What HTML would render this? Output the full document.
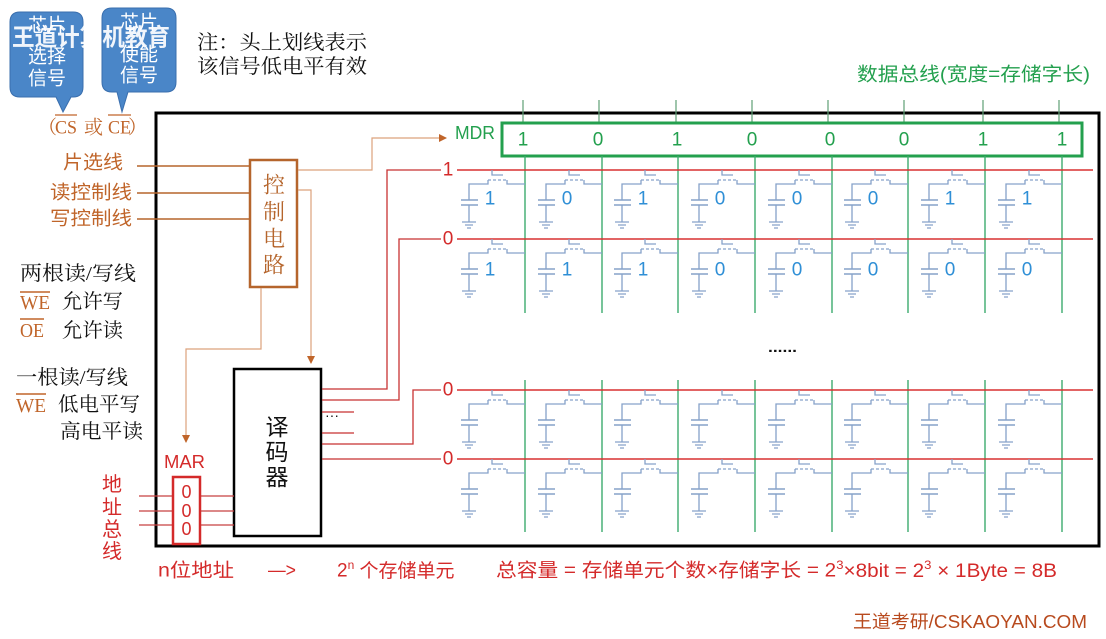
<!DOCTYPE html>
<html><head><meta charset="utf-8"><style>
html,body{margin:0;padding:0;background:#fff;}
svg{display:block;}
.s{font-family:"Liberation Sans","Noto Sans CJK SC",sans-serif;}
.r{font-family:"Liberation Serif","Noto Serif CJK SC",serif;}
</style></head><body>
<svg width="1106" height="639" viewBox="0 0 1106 639" xmlns="http://www.w3.org/2000/svg">
<defs>
<g id="cell" fill="none" stroke="#86a2c9" stroke-width="1.3">
<path d="M-33 0V5H-22"/>
<path d="M-37 10H-18" stroke-dasharray="3 2"/>
<path d="M-37 10V14H-56V30"/>
<path d="M-18 10V14H0"/>
<path d="M-64 30H-47M-64 35H-47" stroke-width="1.6"/>
<path d="M-56 35V52"/>
<path d="M-63 52H-49M-60 55H-52M-58 58H-54"/>
</g>
<marker id="ar" markerWidth="8" markerHeight="8" refX="7" refY="4" orient="auto" markerUnits="userSpaceOnUse"><path d="M0 0L8 4L0 8z" fill="#c0652a"/></marker>
</defs>

<!-- callout bubbles -->
<path d="M20 12H73Q83 12 83 22V87Q83 97 73 97H71L63 112L56 97H20Q10 97 10 87V22Q10 12 20 12Z" fill="#4a86c8" stroke="#3a6fae" stroke-width="1"/>
<path d="M112 8H166Q176 8 176 18V82Q176 92 166 92H128L122 112L117 92H112Q102 92 102 82V18Q102 8 112 8Z" fill="#4a86c8" stroke="#3a6fae" stroke-width="1"/>
<g class="s" fill="#fff" font-size="19" text-anchor="middle" dominant-baseline="central">
<text x="47" y="26">芯片</text><text x="47" y="57">选择</text><text x="47" y="79">信号</text>
<text x="139" y="23">芯片</text><text x="139" y="55">使能</text><text x="139" y="76">信号</text>
</g>
<text class="s" x="12" y="38" fill="#fff" fill-opacity="0.92" font-size="24" font-weight="bold" dominant-baseline="central" textLength="158" lengthAdjust="spacingAndGlyphs">王道计算机教育</text>

<!-- note -->
<g class="r" font-size="20" fill="#111" dominant-baseline="central">
<text x="197" y="43" textLength="170" lengthAdjust="spacingAndGlyphs">注：头上划线表示</text>
<text x="197" y="67" textLength="170" lengthAdjust="spacingAndGlyphs">该信号低电平有效</text>
</g>

<!-- (CS 或 CE) -->
<g class="r" font-size="19" fill="#c0652a" dominant-baseline="central">
<text x="38" y="128">（</text>
<text x="55" y="128" textLength="22" lengthAdjust="spacingAndGlyphs">CS</text>
<text x="84" y="128">或</text>
<text x="108" y="128" textLength="23" lengthAdjust="spacingAndGlyphs">CE</text>
<text x="128" y="128">）</text>
</g>
<path d="M55 115H77M108 115H131" stroke="#c0652a" stroke-width="1.3"/>

<!-- main rect -->
<rect x="156" y="113" width="943" height="433" fill="none" stroke="#000" stroke-width="3"/>

<!-- control labels -->
<g class="s" font-size="19" fill="#c0652a" dominant-baseline="central">
<text x="63" y="163" textLength="60" lengthAdjust="spacingAndGlyphs">片选线</text>
<text x="50" y="193" textLength="82" lengthAdjust="spacingAndGlyphs">读控制线</text>
<text x="50" y="219" textLength="82" lengthAdjust="spacingAndGlyphs">写控制线</text>
</g>
<path d="M137 166H250M137 193H250M137 219H250" stroke="#b5652c" stroke-width="1.5"/>

<!-- left notes -->
<g class="r" font-size="20" fill="#111" dominant-baseline="central">
<text x="20" y="274" textLength="116" lengthAdjust="spacingAndGlyphs">两根读/写线</text>
<text x="62" y="302" textLength="61" lengthAdjust="spacingAndGlyphs">允许写</text>
<text x="62" y="331" textLength="61" lengthAdjust="spacingAndGlyphs">允许读</text>
<text x="16" y="378" textLength="112" lengthAdjust="spacingAndGlyphs">一根读/写线</text>
<text x="58" y="405" textLength="82" lengthAdjust="spacingAndGlyphs">低电平写</text>
<text x="60" y="432" textLength="83" lengthAdjust="spacingAndGlyphs">高电平读</text>
</g>
<g class="r" font-size="20" fill="#c0652a" dominant-baseline="central">
<text x="20" y="303" textLength="30" lengthAdjust="spacingAndGlyphs">WE</text>
<text x="20" y="331" textLength="24" lengthAdjust="spacingAndGlyphs">OE</text>
<text x="16" y="406" textLength="30" lengthAdjust="spacingAndGlyphs">WE</text>
</g>
<path d="M20 292H50M20 319H44M16 394H46" stroke="#c0652a" stroke-width="1.5"/>

<!-- control circuit box -->
<rect x="250" y="160" width="47" height="127" fill="#fff" stroke="#b5652c" stroke-width="2.5"/>
<g class="r" font-size="22" fill="#b5652c" text-anchor="middle" dominant-baseline="central">
<text x="274" y="185">控</text><text x="274" y="212">制</text><text x="274" y="239">电</text><text x="274" y="265">路</text>
</g>
<g fill="none" stroke="#dca27c" stroke-width="1.2">
<path d="M298 170H372V138H446" marker-end="url(#ar)"/>
<path d="M298 190H311V363" marker-end="url(#ar)"/>
<path d="M261 288V349H186V442" marker-end="url(#ar)"/>
</g>

<!-- decoder -->
<rect x="234" y="369" width="87" height="167" fill="#fff" stroke="#000" stroke-width="2.5"/>
<g class="s" font-size="23" fill="#111" text-anchor="middle" dominant-baseline="central">
<text x="277" y="427">译</text><text x="277" y="452">码</text><text x="277" y="477">器</text>
</g>
<g fill="none" stroke="#c83232" stroke-width="1.3">
<path d="M322 389H387V170H441"/>
<path d="M322 400H399V239H441"/>
<path d="M322 412H354M322 433H354"/>
<path d="M322 444H413V390H441"/>
<path d="M322 459H441"/>
</g>
<text class="s" x="325" y="420" font-size="14" fill="#111">···</text>

<!-- MAR -->
<text class="s" x="164" y="462" font-size="18" fill="#d42a2a" dominant-baseline="central" textLength="41" lengthAdjust="spacingAndGlyphs">MAR</text>
<path d="M139 496H234M139 511H234M139 525H234" stroke="#c84040" stroke-width="1.3"/>
<rect x="173" y="477" width="27" height="67" fill="#fff" stroke="#d42a2a" stroke-width="2.5"/>
<g class="s" font-size="18" fill="#d42a2a" text-anchor="middle" dominant-baseline="central">
<text x="186.5" y="492">0</text><text x="186.5" y="511">0</text><text x="186.5" y="529">0</text>
</g>
<g class="s" font-size="20" fill="#d42a2a" text-anchor="middle" dominant-baseline="central">
<text x="112" y="485">地</text><text x="112" y="508">址</text><text x="112" y="530">总</text><text x="112" y="552">线</text>
</g>

<!-- data bus -->
<text class="s" x="857" y="75" font-size="19" fill="#23a04e" dominant-baseline="central" textLength="233" lengthAdjust="spacingAndGlyphs">数据总线(宽度=存储字长)</text>
<g stroke="#5f9f76" stroke-width="1.2">
<path d="M523 100V123M599 100V123M676 100V123M752 100V123M828 100V123M904 100V123M983 100V123M1059 100V123"/>
</g>
<text class="s" x="455" y="133" font-size="18" fill="#23a04e" dominant-baseline="central" textLength="40" lengthAdjust="spacingAndGlyphs">MDR</text>
<rect x="502" y="123" width="580" height="33" fill="#fff" stroke="#23a04e" stroke-width="3"/>
<g class="s" font-size="19" fill="#23a04e" text-anchor="middle" dominant-baseline="central">
<text x="523" y="140">1</text><text x="598" y="140">0</text><text x="677" y="140">1</text><text x="752" y="140">0</text>
<text x="830" y="140">0</text><text x="904" y="140">0</text><text x="983" y="140">1</text><text x="1062" y="140">1</text>
</g>

<!-- bit lines -->
<g stroke="#3daa6e" stroke-width="1.4">
<path d="M525 156V313M602 156V313M678 156V313M755 156V313M832 156V313M908 156V313M985 156V313M1062 156V313"/>
<path d="M525 380V532M602 380V532M678 380V532M755 380V532M832 380V532M908 380V532M985 380V532M1062 380V532"/>
</g>

<!-- word lines -->
<g stroke="#d83030" stroke-width="1.4">
<path d="M457 170H1093M457 239H1093M457 390H1093M457 459H1093"/>
</g>
<g class="s" font-size="19" fill="#d42a2a" text-anchor="middle" dominant-baseline="central">
<text x="448" y="170">1</text><text x="448" y="239">0</text><text x="448" y="390">0</text><text x="448" y="459">0</text>
</g>

<!-- cells -->
<g>
<use href="#cell" x="525" y="170"/><use href="#cell" x="602" y="170"/><use href="#cell" x="678" y="170"/><use href="#cell" x="755" y="170"/>
<use href="#cell" x="832" y="170"/><use href="#cell" x="908" y="170"/><use href="#cell" x="985" y="170"/><use href="#cell" x="1062" y="170"/>
<use href="#cell" x="525" y="239"/><use href="#cell" x="602" y="239"/><use href="#cell" x="678" y="239"/><use href="#cell" x="755" y="239"/>
<use href="#cell" x="832" y="239"/><use href="#cell" x="908" y="239"/><use href="#cell" x="985" y="239"/><use href="#cell" x="1062" y="239"/>
<use href="#cell" x="525" y="390"/><use href="#cell" x="602" y="390"/><use href="#cell" x="678" y="390"/><use href="#cell" x="755" y="390"/>
<use href="#cell" x="832" y="390"/><use href="#cell" x="908" y="390"/><use href="#cell" x="985" y="390"/><use href="#cell" x="1062" y="390"/>
<use href="#cell" x="525" y="459"/><use href="#cell" x="602" y="459"/><use href="#cell" x="678" y="459"/><use href="#cell" x="755" y="459"/>
<use href="#cell" x="832" y="459"/><use href="#cell" x="908" y="459"/><use href="#cell" x="985" y="459"/><use href="#cell" x="1062" y="459"/>
</g>
<g class="s" font-size="19" fill="#2f8fd6" text-anchor="middle" dominant-baseline="central">
<text x="490" y="199">1</text><text x="567" y="199">0</text><text x="643" y="199">1</text><text x="720" y="199">0</text>
<text x="797" y="199">0</text><text x="873" y="199">0</text><text x="950" y="199">1</text><text x="1027" y="199">1</text>
<text x="490" y="270">1</text><text x="567" y="270">1</text><text x="643" y="270">1</text><text x="720" y="270">0</text>
<text x="797" y="270">0</text><text x="873" y="270">0</text><text x="950" y="270">0</text><text x="1027" y="270">0</text>
</g>
<text class="s" x="768" y="352" font-size="15" font-weight="bold" fill="#111" textLength="29" lengthAdjust="spacingAndGlyphs">......</text>

<!-- bottom formula -->
<g class="s" font-size="19" fill="#d42a2a" dominant-baseline="central">
<text x="158" y="571" textLength="76" lengthAdjust="spacingAndGlyphs">n位地址</text>
<text x="268" y="571" textLength="28" lengthAdjust="spacingAndGlyphs">—&gt;</text>
<text x="337" y="571">2<tspan font-size="12" dy="-6">n</tspan><tspan dy="6"> 个存储单元</tspan></text>
<text x="496" y="571" textLength="561" lengthAdjust="spacingAndGlyphs">总容量 = 存储单元个数×存储字长 = 2<tspan font-size="12" dy="-6">3</tspan><tspan dy="6">×8bit = 2</tspan><tspan font-size="12" dy="-6">3</tspan><tspan dy="6"> × 1Byte = 8B</tspan></text>
</g>
<text class="s" x="853" y="622" font-size="18" fill="#b84a1e" dominant-baseline="central" textLength="234" lengthAdjust="spacingAndGlyphs">王道考研/CSKAOYAN.COM</text>
</svg>
</body></html>
